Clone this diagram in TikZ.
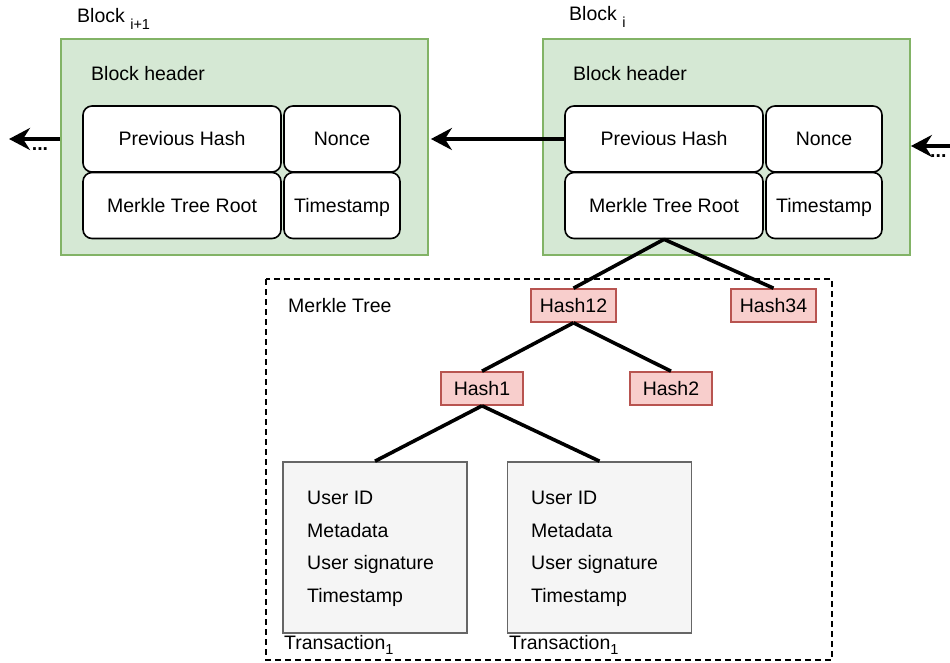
\documentclass[tikz,border=0pt]{standalone}
\usepackage{fontspec}
\setmainfont{Liberation Sans}
\usetikzlibrary{arrows.meta}
\begin{document}
\begin{tikzpicture}[x=1pt,y=-1pt,
  every node/.style={font=\fontsize{19.5}{23}\selectfont},
  blockbox/.style={draw=blkline, fill=blkfill, line width=1.8pt, minimum width=367, minimum height=216, inner sep=0},
  field/.style={draw=black, fill=white, rounded corners=9pt, line width=1.6pt, inner sep=0, text height=15pt, text depth=1pt},
  hashbox/.style={draw=hashline, fill=hashfill, line width=1.6pt, minimum width=85, minimum height=33, inner sep=0, text height=15pt, text depth=1pt},
  txbox/.style={draw=txline, fill=txfill, line width=1.6pt, minimum width=184, minimum height=171, inner sep=0},
  link/.style={line width=3.6pt},
  arr/.style={line width=3.6pt, -{Stealth[length=21pt,width=22pt,inset=7pt]}},
  plain/.style={inner sep=0, anchor=west}
]
\definecolor{blkfill}{HTML}{D5E8D4}
\definecolor{blkline}{HTML}{82B366}
\definecolor{hashfill}{HTML}{F8CECC}
\definecolor{hashline}{HTML}{B85450}
\definecolor{txfill}{HTML}{F5F5F5}
\definecolor{txline}{HTML}{666666}
\useasboundingbox (0,0) rectangle (950,663);

% Block i+1
\node[blockbox] (bl1) at (244.5,147) {};
\node[plain] (bl1lab) at (77,19) {Block \raisebox{-7pt}{\fontsize{14.5}{16}\selectfont i+1}};
\node[plain] (bh1) at (91,74) {Block header};
\node[field, minimum width=198, minimum height=66] (ph1) at (182,139) {Previous Hash};
\node[field, minimum width=116, minimum height=66] (nc1) at (342,139) {Nonce};
\node[field, minimum width=198, minimum height=66] (mr1) at (182,205.5) {Merkle Tree Root};
\node[field, minimum width=116, minimum height=66] (ts1) at (342,205.5) {Timestamp};

% Block i
\node[blockbox] (bl2) at (726.5,147) {};
\node[plain] (bl2lab) at (569,17) {Block \raisebox{-7pt}{\fontsize{14.5}{16}\selectfont i}};
\node[plain] (bh2) at (573,74) {Block header};
\node[field, minimum width=198, minimum height=66] (ph2) at (664,139) {Previous Hash};
\node[field, minimum width=116, minimum height=66] (nc2) at (824,139) {Nonce};
\node[field, minimum width=198, minimum height=66] (mr2) at (664,205.5) {Merkle Tree Root};
\node[field, minimum width=116, minimum height=66] (ts2) at (824,205.5) {Timestamp};

% chain arrows
\coordinate (leftend) at (9,139);
\coordinate (rightend) at (952,146);
\draw[arr] (ph2.west) -- ([xshift=2pt]bl1.east |- ph2.west);
\draw[arr] (bl1.west |- ph1.west) -- (leftend);
\draw[arr] (rightend) -- (bl2.east |- rightend);
\node[inner sep=0] (dots1) at (40,149) {\textbf{...}};
\node[inner sep=0, anchor=west] (dots2) at (930,156) {\textbf{...}};

% Merkle tree
\draw[line width=1.3pt, dash pattern=on 6pt off 4pt] (266,279) rectangle (832,660);
\node[plain] (mtlab) at (288,306) {Merkle Tree};
\node[hashbox] (h12) at (573.5,305.5) {Hash12};
\node[hashbox] (h34) at (773.5,305.5) {Hash34};
\node[hashbox, minimum width=82] (h1) at (482,388.5) {Hash1};
\node[hashbox, minimum width=82] (h2) at (671,388.5) {Hash2};

\draw[link] (mr2.south) -- (h12.north);
\draw[link] (mr2.south) -- (h34.north);
\draw[link] (h12.south) -- (h1.north);
\draw[link] (h12.south) -- (h2.north);

\node[txbox] (tx1) at (375,547.5) {};
\node[txbox] (tx2) at (599.5,547.5) {};
\draw[link] (h1.south) -- (tx1.north);
\draw[link] (h1.south) -- (tx2.north);

\foreach \n/\x in {tx1/307, tx2/531} {
  \node[plain] (\n a) at (\x,497.5) {User ID};
  \node[plain] (\n b) at (\x,531) {Metadata};
  \node[plain] (\n c) at (\x,564.5) {User signature};
  \node[plain] (\n d) at (\x,597.5) {Timestamp};
}
\node[plain] (tl1) at (284,645) {Transaction\raisebox{-5pt}{\fontsize{14.5}{16}\selectfont 1}};
\node[plain] (tl2) at (509,645) {Transaction\raisebox{-5pt}{\fontsize{14.5}{16}\selectfont 1}};
\end{tikzpicture}
\end{document}
